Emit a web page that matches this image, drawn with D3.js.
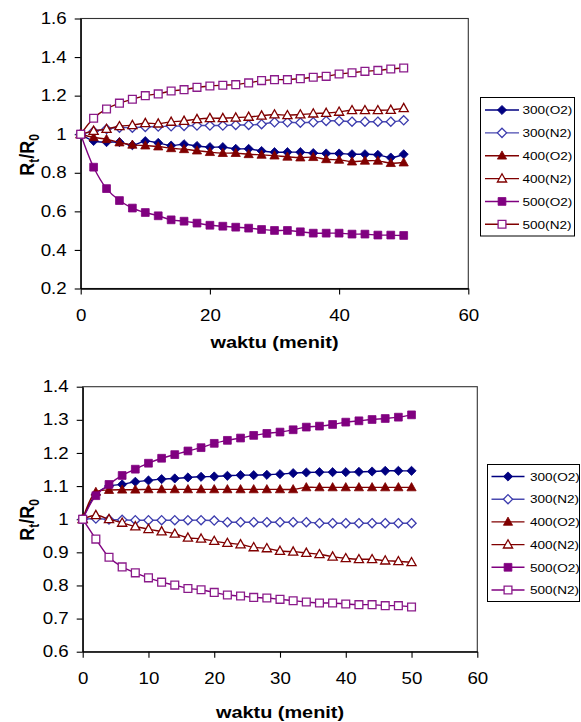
<!DOCTYPE html>
<html><head><meta charset="utf-8">
<script src="https://cdn.jsdelivr.net/npm/d3@7"></script>
<style>
html,body{margin:0;padding:0;background:#fff;}
svg{display:block;font-family:"Liberation Sans",Arial,sans-serif;}
</style></head>
<body><svg id="c" width="581" height="722"></svg>
<script>
// ---------------- DATA ----------------
const times = [0,2,4,6,8,10,12,14,16,18,20,22,24,26,28,30,32,34,36,38,40,42,44,46,48,50];
const seriesNames = ["300(O2)","300(N2)","400(O2)","400(N2)","500(O2)","500(N2)"];

// top chart
const top300O2 = [1,0.965,0.959,0.959,0.943,0.964,0.955,0.941,0.948,0.939,0.933,0.933,0.924,0.924,0.913,0.907,0.907,0.907,0.902,0.900,0.900,0.896,0.896,0.893,0.879,0.896];
const top300N2 = [1,1.015,1.027,1.034,1.034,1.038,1.040,1.041,1.043,1.045,1.045,1.045,1.048,1.048,1.052,1.062,1.062,1.060,1.062,1.069,1.069,1.065,1.065,1.065,1.065,1.072];
const top400O2 = [1,0.984,0.974,0.957,0.945,0.941,0.936,0.927,0.922,0.915,0.907,0.902,0.902,0.896,0.893,0.889,0.883,0.879,0.881,0.870,0.867,0.858,0.862,0.862,0.850,0.853];
const top400N2 = [1,1.017,1.027,1.041,1.047,1.057,1.055,1.064,1.069,1.078,1.083,1.083,1.086,1.090,1.096,1.102,1.098,1.102,1.107,1.110,1.116,1.124,1.124,1.124,1.126,1.135];
const top500O2 = [1,0.829,0.718,0.656,0.617,0.594,0.577,0.556,0.549,0.539,0.528,0.523,0.518,0.513,0.506,0.501,0.501,0.494,0.487,0.487,0.487,0.482,0.482,0.477,0.477,0.475];
const top500N2 = [1,1.083,1.131,1.161,1.181,1.200,1.209,1.224,1.231,1.243,1.250,1.254,1.257,1.266,1.278,1.283,1.283,1.288,1.295,1.300,1.312,1.319,1.326,1.331,1.338,1.343];

// bottom chart
const bot300O2 = [1,1.075,1.100,1.105,1.113,1.117,1.121,1.123,1.126,1.128,1.129,1.131,1.133,1.133,1.134,1.136,1.139,1.141,1.142,1.142,1.142,1.143,1.144,1.146,1.146,1.146];
const bot300N2 = [1,1.002,0.999,0.998,0.997,0.997,0.997,0.997,0.997,0.997,0.996,0.991,0.991,0.991,0.991,0.991,0.991,0.991,0.988,0.988,0.988,0.988,0.988,0.988,0.988,0.988];
const bot400O2 = [1,1.082,1.088,1.089,1.089,1.090,1.090,1.090,1.090,1.090,1.090,1.090,1.090,1.090,1.090,1.090,1.090,1.096,1.096,1.096,1.096,1.096,1.096,1.096,1.096,1.096];
const bot400N2 = [1,1.012,1.000,0.989,0.978,0.970,0.963,0.956,0.944,0.941,0.934,0.928,0.924,0.915,0.912,0.904,0.902,0.898,0.894,0.887,0.882,0.879,0.879,0.875,0.873,0.870];
const bot500O2 = [1,1.071,1.105,1.132,1.151,1.169,1.184,1.195,1.206,1.216,1.229,1.238,1.245,1.253,1.259,1.263,1.270,1.278,1.281,1.286,1.293,1.297,1.301,1.304,1.308,1.315];
const bot500N2 = [1,0.940,0.885,0.856,0.838,0.823,0.810,0.801,0.791,0.787,0.779,0.771,0.768,0.764,0.762,0.758,0.754,0.750,0.747,0.747,0.744,0.742,0.742,0.739,0.739,0.735];

// ticks
const topXTicks = [0,20,40,60];
const topYTicks = [0.2,0.4,0.6,0.8,1,1.2,1.4,1.6];
const botXTicks = [0,10,20,30,40,50,60];
const botYTicks = [0.6,0.7,0.8,0.9,1,1.1,1.2,1.3,1.4];
const xTitle = "waktu (menit)";

// ---------------- STYLE ----------------
const SX = 1.17; // horizontal text stretch seen in the reference
const styles = {
  "300(O2)": {color:"#000080", line:"#000080", shape:"diamond", filled:true},
  "300(N2)": {color:"#3c3cae", line:"#4a4ab0", shape:"diamond", filled:false},
  "400(O2)": {color:"#800000", line:"#800000", shape:"triangle", filled:true},
  "400(N2)": {color:"#800000", line:"#800000", shape:"triangle", filled:false},
  "500(O2)": {color:"#800080", line:"#800080", shape:"square", filled:true},
  "500(N2)": {color:"#8a1a8a", line:"#800000", shape:"square", filled:false}
};
function shapePath(s){
  if(s==="diamond") return "M0,-4.6L4.6,0L0,4.6L-4.6,0Z";
  if(s==="triangle") return "M0,-4.8L4.6,3.4L-4.6,3.4Z";
  return "M-3.9,-3.9H3.9V3.9H-3.9Z";
}

const svg = d3.select("#c");
svg.append("rect").attr("width",581).attr("height",722).attr("fill","#fff");

function stretchText(sel, fs, weight){
  sel.each(function(){
    const t = d3.select(this);
    const x = +t.attr("x") || 0;
    const y = +t.attr("y") || 0;
    t.attr("x",0).attr("y",0)
     .attr("transform",`translate(${x},${y}) scale(${SX},1)`)
     .attr("font-size",fs).attr("font-family",'"Liberation Sans",Arial,sans-serif')
     .attr("fill","#000");
    if(weight) t.attr("font-weight",weight);
  });
}

function drawChart(cfg){
  const g = svg.append("g");
  const x = d3.scaleLinear().domain(cfg.xDomain).range(cfg.xRange);
  const y = d3.scaleLinear().domain(cfg.yDomain).range(cfg.yRange);

  // plot frame
  g.append("rect")
    .attr("x",cfg.xRange[0]).attr("y",cfg.yRange[1])
    .attr("width",cfg.xRange[1]-cfg.xRange[0]).attr("height",cfg.yRange[0]-cfg.yRange[1])
    .attr("fill","none").attr("stroke","#333").attr("stroke-width",1.1);

  // axes
  const fmt = d => (d===1||d===0)? String(d) : (Number.isInteger(d)? String(d) : d.toFixed(1));
  const ya = g.append("g").attr("transform",`translate(${cfg.xRange[0]},0)`)
    .call(d3.axisLeft(y).tickValues(cfg.yTicks).tickFormat(fmt).tickSize(6).tickPadding(8).tickSizeOuter(0));
  const xa = g.append("g").attr("transform",`translate(0,${cfg.yRange[0]})`)
    .call(d3.axisBottom(x).tickValues(cfg.xTicks).tickFormat(fmt).tickSize(6).tickPadding(15).tickSizeOuter(0));
  [ya,xa].forEach(a=>{
    a.select(".domain").attr("stroke","#000").attr("stroke-width",1.3);
    a.selectAll(".tick line").attr("stroke","#000").attr("stroke-width",1.1);
    stretchText(a.selectAll(".tick text"),16);
  });

  // series
  const line = d3.line().x((d,i)=>x(times[i])).y(d=>y(d)).curve(d3.curveCatmullRom.alpha(0.5));
  cfg.series.forEach((vals,k)=>{
    const st = styles[seriesNames[k]];
    const lc = cfg.lineColors ? cfg.lineColors[k] : st.line;
    g.append("path").datum(vals).attr("d",line)
      .attr("fill","none").attr("stroke",lc).attr("stroke-width",1.4);
    g.selectAll(null).data(vals).enter().append("path")
      .attr("d",shapePath(st.shape))
      .attr("transform",(d,i)=>`translate(${x(times[i])},${y(d)})`)
      .attr("fill",st.filled?st.color:"#fff")
      .attr("stroke",st.color).attr("stroke-width",st.filled?0.8:1.3);
  });

  // axis titles
  const xt = g.append("text").attr("x",(cfg.xRange[0]+cfg.xRange[1])/2).attr("y",cfg.xTitleY)
    .attr("text-anchor","middle").text(xTitle);
  stretchText(xt,17,"bold");

  const yt = g.append("text")
    .attr("transform",`translate(${cfg.yTitleX},${cfg.yTitleY}) scale(${SX},1) rotate(-90)`)
    .attr("text-anchor","middle").attr("font-size",18).attr("font-weight","bold")
    .attr("font-family",'"Liberation Sans",Arial,sans-serif');
  yt.append("tspan").text("R");
  yt.append("tspan").attr("font-size",12).attr("dy",4).text("t");
  yt.append("tspan").attr("dy",-4).text("/R");
  yt.append("tspan").attr("font-size",12).attr("dy",4).text("0");

  // legend
  const L = cfg.legend;
  g.append("rect").attr("x",L.x).attr("y",L.y).attr("width",L.w).attr("height",L.h)
    .attr("fill","#fff").attr("stroke","#000").attr("stroke-width",1);
  seriesNames.forEach((nm,k)=>{
    const st = styles[nm];
    const lc = cfg.lineColors ? cfg.lineColors[k] : st.line;
    const yy = L.y0 + k*L.dy;
    g.append("line").attr("x1",L.lx1).attr("x2",L.lx2).attr("y1",yy).attr("y2",yy)
      .attr("stroke",lc).attr("stroke-width",1.4);
    g.append("path").attr("d",shapePath(st.shape))
      .attr("transform",`translate(${(L.lx1+L.lx2)/2},${yy})`)
      .attr("fill",st.filled?st.color:"#fff").attr("stroke",st.color).attr("stroke-width",st.filled?0.8:1.3);
    const tx = g.append("text").attr("x",L.tx).attr("y",yy+4.2).text(nm);
    stretchText(tx,11.6);
  });
}

drawChart({
  xDomain:[0,60], xRange:[80.7,468.3],
  yDomain:[0.2,1.6], yRange:[288.5,18.5],
  xTicks:topXTicks, yTicks:topYTicks,
  series:[top300O2,top300N2,top400O2,top400N2,top500O2,top500N2],
  lineColors:["#000080","#4a4ab0","#800000","#800000","#800080","#800000"],
  xTitleY:348, yTitleX:34, yTitleY:155,
  legend:{x:480.5,y:97.5,w:94,h:138.5,y0:110,dy:22.86,lx1:485,lx2:519,tx:522.5}
});
drawChart({
  xDomain:[0,60], xRange:[82.7,477.3],
  yDomain:[0.6,1.4], yRange:[651.7,386.7],
  xTicks:botXTicks, yTicks:botYTicks,
  series:[bot300O2,bot300N2,bot400O2,bot400N2,bot500O2,bot500N2],
  lineColors:["#000080","#4a4ab0","#800000","#800000","#800080","#800080"],
  xTitleY:718, yTitleX:34, yTitleY:520,
  legend:{x:487.5,y:464.5,w:92,h:137,y0:476.5,dy:22.7,lx1:491.5,lx2:524.5,tx:530}
});
</script></body></html>
